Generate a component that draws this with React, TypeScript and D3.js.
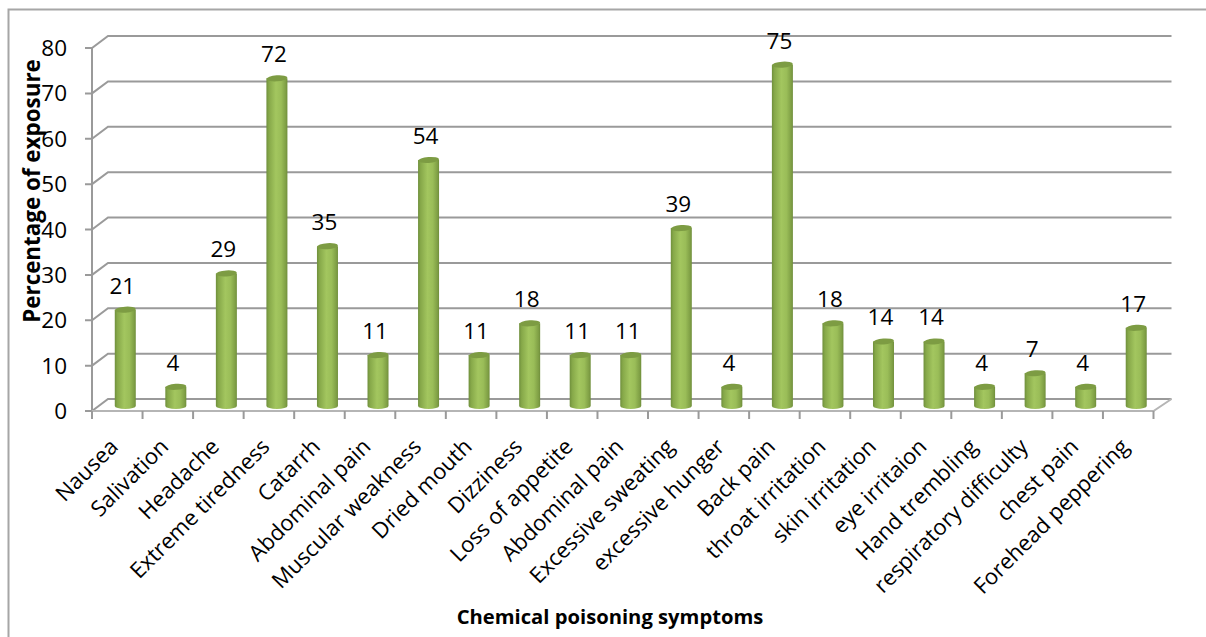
import React from "react";
import * as d3 from "d3";

const categories = ["Nausea","Salivation","Headache","Extreme tiredness","Catarrh","Abdominal pain","Muscular weakness","Dried mouth","Dizziness","Loss of appetite","Abdominal pain","Excessive sweating","excessive hunger","Back pain","throat irritation","skin irritation","eye irritaion","Hand trembling","respiratory difficulty","chest pain","Forehead peppering"];
const values = [21,4,29,72,35,11,54,11,18,11,11,39,4,75,18,14,14,4,7,4,17];
const yTicks = [0,10,20,30,40,50,60,70,80];
const xTitle = "Chemical poisoning symptoms";
const yTitle = "Percentage of exposure";

const W = 1206, H = 637;
const font = "'Open Sans', sans-serif";
const grid = "#9a9a9a";

export default function App() {
  const x = d3.scaleBand<number>().domain(categories.map((_, i) => i)).range([92, 1153.5]);
  const y = d3.scaleLinear().domain([0, 80]).range([411, 48]);
  const dx = 16, dy = -12;
  const barOffX = 8, barOffY = -6;
  const bw = 21, ry = 3;
  return (
    <svg width={W} height={H} style={{ position: "absolute", left: 0, top: 0, background: "#fff" }}>
      <defs>
        <linearGradient id="cyl" x1="0" x2="1" y1="0" y2="0">
          <stop offset="0" stopColor="#6f8f3c" />
          <stop offset="0.12" stopColor="#86a849" />
          <stop offset="0.45" stopColor="#a3c65f" />
          <stop offset="0.7" stopColor="#9abd58" />
          <stop offset="0.92" stopColor="#7f9f45" />
          <stop offset="1" stopColor="#6f8e3b" />
        </linearGradient>
      </defs>
      <path d={`M8.5,637V9.5H1206`} fill="none" stroke="#a6a6a6" strokeWidth={2} />
      {yTicks.map(t => (
        <path key={t} d={`M85,${y(t)}H${x.range()[0]}l${dx},${dy}H${x.range()[1] + dx + 2}`} fill="none" stroke={grid} strokeWidth={2} />
      ))}
      <line x1={92} x2={92} y1={y(80)} y2={y(0)} stroke={grid} strokeWidth={2} />
      <path d={`M92,${y(0)}H1153.5l18,-12`} fill="none" stroke="#b5b5b5" strokeWidth={2} />
      {d3.range(categories.length + 1).map(i => {
        const px = 92 + i * x.step();
        return <line key={i} x1={px} x2={px} y1={y(0)} y2={y(0) + 8} stroke={grid} strokeWidth={2} />;
      })}
      {values.map((v, i) => {
        const cx = x(i)! + x.bandwidth() / 2 + barOffX;
        const top = y(v) + barOffY, base = y(0) + barOffY + 1;
        const l = cx - bw / 2, r = cx + bw / 2;
        return (
          <g key={i}>
            <path d={`M${l},${top}V${base}A${bw / 2},${ry} 0 0 0 ${r},${base}V${top}Z`} fill="url(#cyl)" />
            <ellipse cx={cx} cy={top} rx={bw / 2} ry={ry} fill="#7d9c43" transform={`rotate(-4 ${cx} ${top})`} />
            <text x={cx - 3} y={top - 16} textAnchor="middle" fontFamily={font} fontSize={22.5} fill="#000">{v}</text>
          </g>
        );
      })}
      {yTicks.map(t => (
        <text key={t} x={67} y={y(t) + 8} textAnchor="end" fontFamily={font} fontSize={22.5} fill="#000">{t}</text>
      ))}
      {categories.map((c, i) => {
        const px = x(i)! + x.bandwidth() / 2 - 5;
        return (
          <text key={i} transform={`translate(${px},${441}) rotate(-45)`} textAnchor="end"
            fontFamily={font} fontSize={22} fill="#000" dy={10}>{c}</text>
        );
      })}
      <text transform="translate(39.5,191) rotate(-90)" textAnchor="middle" fontFamily={font} fontWeight={700} fontSize={22.4} fill="#000">{yTitle}</text>
      <text x={610} y={624} textAnchor="middle" fontFamily={font} fontWeight={700} fontSize={20.2} fill="#000">{xTitle}</text>
    </svg>
  );
}
